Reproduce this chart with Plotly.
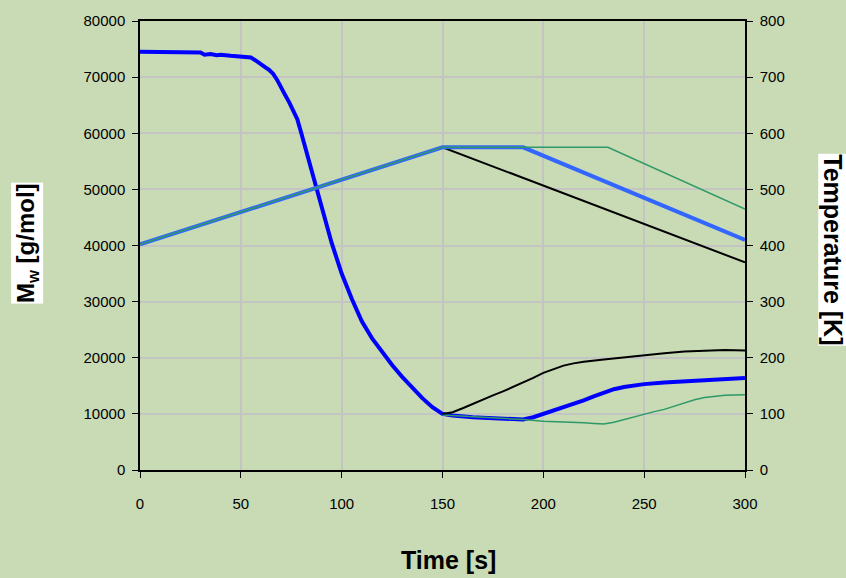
import plotly.graph_objects as go

# Molecular weight (left axis)
t_mw_blue = [0, 5, 10, 15, 20, 25, 30, 32, 35, 38, 40, 45, 50, 53, 55, 58, 60, 62, 64, 66,
             68, 70, 72, 74, 76, 78, 80, 82, 85, 88, 90, 95, 100, 105, 110, 115, 120, 125,
             130, 135, 140, 145, 150, 155, 160, 165, 170, 175, 180, 185, 190, 195, 200, 205,
             210, 215, 220, 225, 230, 235, 240, 245, 250, 260, 270, 280, 290, 300]
mw_blue = [74500, 74500, 74450, 74400, 74400, 74350, 74400, 74000, 74100, 73900, 74000, 73800,
           73700, 73600, 73500, 72800, 72200, 71800, 71300, 70600, 69500, 68000, 66800, 65500,
           63800, 62500, 60000, 57500, 53500, 49500, 47000, 40500, 35000, 30500, 26500, 23500,
           21000, 18700, 16600, 14600, 12800, 11200, 10000, 9700, 9500, 9400, 9300, 9200, 9100,
           9000, 9000, 9400, 10000, 10500, 11100, 11800, 12400, 13100, 13800, 14400, 14800,
           15100, 15300, 15600, 15800, 16000, 16200, 16400]

t_mw_black = [150, 155, 160, 165, 170, 175, 180, 185, 190, 195, 200, 205, 210, 215, 220,
              230, 240, 250, 260, 270, 280, 290, 300]
mw_black = [10000, 10300, 11000, 11800, 12500, 13300, 14000, 14800, 15500, 16400, 17300, 18000,
            18600, 19000, 19300, 19700, 20100, 20500, 20800, 21100, 21300, 21400, 21300]

t_mw_green = [150, 160, 170, 180, 190, 200, 210, 220, 225, 230, 235, 240, 245, 250, 255, 260,
              265, 270, 275, 280, 290, 300]
mw_green = [9800, 9600, 9500, 9300, 9000, 8700, 8600, 8400, 8300, 8200, 8500, 9000, 9500, 10000,
            10400, 10800, 11400, 12000, 12500, 12900, 13300, 13400]

# Temperature profiles (right axis)
t_temp_black = [0, 150, 300]
temp_black = [402, 575, 370]
t_temp_blue = [0, 150, 190, 300]
temp_blue = [402, 575, 575, 410]
t_temp_green = [0, 150, 232, 300]
temp_green = [402, 575, 575, 465]

FONT = "Arial, Liberation Sans, sans-serif"

fig = go.Figure()

# temperature lines
fig.add_trace(go.Scatter(x=t_temp_black, y=temp_black, yaxis="y2", mode="lines",
                         line=dict(color="black", width=2)))
fig.add_trace(go.Scatter(x=t_temp_blue, y=temp_blue, yaxis="y2", mode="lines",
                         line=dict(color="#3366ff", width=4)))
fig.add_trace(go.Scatter(x=t_temp_green, y=temp_green, yaxis="y2", mode="lines",
                         line=dict(color="#2e9966", width=1.5)))

# Mw lines
fig.add_trace(go.Scatter(x=t_mw_blue, y=mw_blue, mode="lines",
                         line=dict(color="#0000ff", width=4)))
fig.add_trace(go.Scatter(x=t_mw_green, y=mw_green, mode="lines",
                         line=dict(color="#2e9966", width=1.5)))
fig.add_trace(go.Scatter(x=t_mw_black, y=mw_black, mode="lines",
                         line=dict(color="black", width=2)))

axis_common = dict(showline=True, linecolor="black", linewidth=1.5, ticks="outside",
                   ticklen=6, tickcolor="black", tickfont=dict(family=FONT, size=15, color="black"))

fig.update_layout(
    width=846, height=578,
    margin=dict(l=140, r=101, t=17, b=108),
    paper_bgcolor="#c8dbb5",
    plot_bgcolor="rgba(0,0,0,0)",
    showlegend=False,
    xaxis=dict(range=[0, 300], dtick=50, showgrid=True, gridcolor="#c4c4c4", gridwidth=1.5,
               zeroline=False, mirror=True, ticklabelstandoff=13, **axis_common),
    yaxis=dict(range=[0, 80000], dtick=10000, tickformat="d", showgrid=True, gridcolor="#c4c4c4",
               gridwidth=1.5, zeroline=False, ticklabelstandoff=4, **axis_common),
    yaxis2=dict(range=[0, 800], dtick=100, overlaying="y", side="right", showgrid=False,
                zeroline=False, ticklabelstandoff=4, **axis_common),
    annotations=[
        dict(text="<b>Time [s]</b>", x=0.51, y=-0.2, xref="paper", yref="paper",
             xanchor="center", yanchor="middle", showarrow=False,
             font=dict(family=FONT, size=25, color="black")),
        dict(text="<b>M<sub>w</sub> [g/mol]</b>", x=-0.187, y=0.505, xref="paper", yref="paper",
             textangle=-90, xanchor="center", yanchor="middle", showarrow=False,
             bgcolor="white", borderpad=0,
             font=dict(family=FONT, size=24, color="black")),
        dict(text="<b>Temperature [K]</b>", x=1.145, y=0.49, xref="paper", yref="paper",
             textangle=90, xanchor="center", yanchor="middle", showarrow=False,
             bgcolor="white", borderpad=0,
             font=dict(family=FONT, size=25, color="black")),
    ],
)

# drop the default page margin so the figure sits at the window's corner
fig.write_html("out.html", config={"displayModeBar": False},
               post_script="document.body.style.margin='0';")
